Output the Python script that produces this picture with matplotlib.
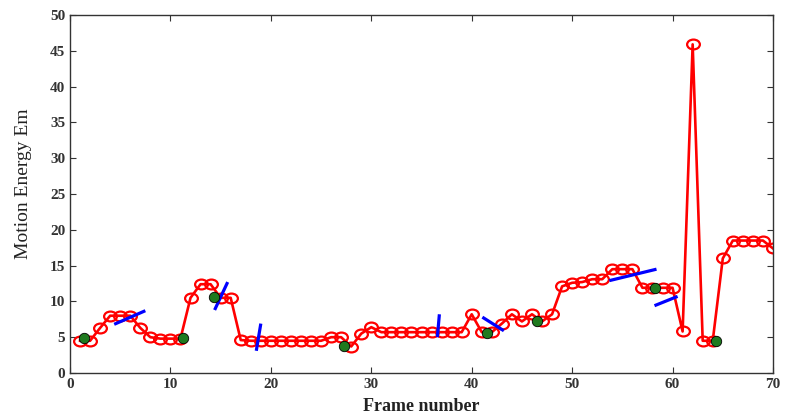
import matplotlib
matplotlib.use("Agg")
import matplotlib.pyplot as plt
from matplotlib.path import Path
from matplotlib.transforms import Affine2D

# Motion energy per frame
frames = list(range(1, 71))
energy = [4.5, 4.5, 6.3, 8.0, 8.0, 8.0, 6.3, 5.0, 4.8, 4.8,
          4.8, 10.5, 12.4, 12.4, 10.5, 10.5, 4.6, 4.5, 4.5, 4.5,
          4.5, 4.5, 4.5, 4.5, 4.5, 5.0, 5.0, 3.7, 5.5, 6.4,
          5.7, 5.7, 5.7, 5.7, 5.7, 5.7, 5.7, 5.7, 5.7, 8.2,
          5.7, 5.7, 6.9, 8.2, 7.2, 8.2, 7.2, 8.2, 12.1, 12.6,
          12.7, 13.1, 13.1, 14.5, 14.5, 14.5, 11.9, 11.9, 11.9, 11.9,
          5.8, 45.9, 4.5, 4.5, 16.0, 18.5, 18.5, 18.5, 18.5, 17.4]

# Detected key frames
key_x = [1.4, 11.3, 14.3, 27.3, 41.5, 46.5, 58.3, 64.3]
key_y = [4.9, 4.9, 10.6, 3.8, 5.6, 7.2, 11.9, 4.5]

# Boundary segments: (x0, x1), (y0, y1)
seg_x = [(4.4, 7.5), (14.4, 15.7), (19.0, 18.55), (36.78, 36.58),
         (41.06, 43.2), (53.7, 58.4), (58.2, 60.5)]
seg_y = [(6.8, 8.7), (8.8, 12.7), (6.9, 3.1), (8.2, 5.0),
         (7.8, 5.9), (12.9, 14.5), (9.4, 10.7)]

x_ticks = list(range(0, 71, 10))
y_ticks = list(range(0, 51, 5))

# slightly wide elliptical ring marker
ellipse = Affine2D().scale(1.3, 1.0).transform_path(Path.unit_circle())

fig = plt.figure(figsize=(7.85, 4.2), dpi=100)
ax = fig.add_axes([70 / 785, 1 - 373 / 420, 703 / 785, 358 / 420])

ax.plot(frames, energy, color="red", linewidth=1.9, marker=ellipse,
        markersize=9.2, markerfacecolor="none", markeredgecolor="red",
        markeredgewidth=1.6, zorder=2)

for (x0, x1), (y0, y1) in zip(seg_x, seg_y):
    ax.plot([x0, x1], [y0, y1], color="blue", linewidth=2.3, zorder=3,
            solid_capstyle="butt")

ax.plot(key_x, key_y, linestyle="none", marker="o", markersize=7.5,
        markerfacecolor="#1f7a1f", markeredgecolor="black",
        markeredgewidth=0.6, zorder=4)

ax.set_xlim(0, 70)
ax.set_ylim(0, 50)
ax.set_xticks(x_ticks)
ax.set_yticks(y_ticks)
ax.tick_params(direction="in", top=True, right=True, length=4,
               width=0.8, colors="#333333", labelcolor="#333333")
for lbl in ax.get_xticklabels() + ax.get_yticklabels():
    lbl.set_fontfamily("Liberation Serif")
    lbl.set_fontweight("bold")
    lbl.set_fontsize(11)
for sp in ax.spines.values():
    sp.set_color("#333333")
    sp.set_linewidth(1.0)

ax.set_xlabel("Frame number", fontfamily="Liberation Serif",
              fontweight="bold", fontsize=13, color="#222222", labelpad=5)
ax.set_ylabel("Motion Energy Em", fontfamily="Liberation Serif",
              fontsize=14, color="#222222")
ax.yaxis.set_label_coords(-0.054, 0.53)

fig.savefig("out.png", dpi=100)
